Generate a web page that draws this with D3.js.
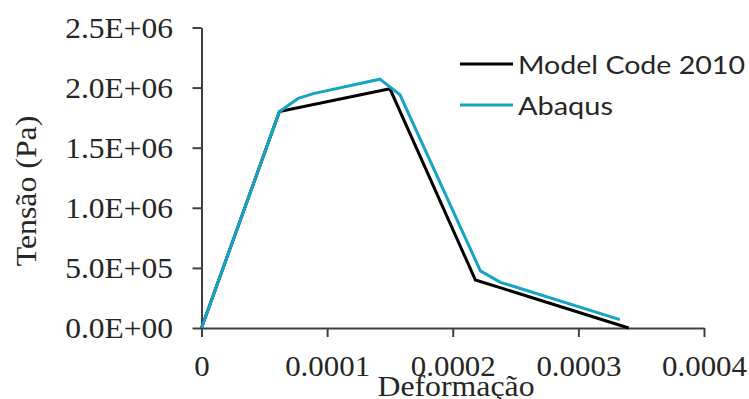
<!DOCTYPE html>
<html>
<head>
<meta charset="utf-8">
<script src="https://cdn.jsdelivr.net/npm/d3@7"></script>
<style>
  html, body { margin: 0; padding: 0; background: #fff; }
  svg { display: block; }
</style>
</head>
<body>
<svg id="chart" width="749" height="399"></svg>
<script>
// Stress–strain curves for concrete in tension
const seriesNames = ["Model Code 2010", "Abaqus"];
const seriesColors = ["#000000", "#17a3c6"];

// strain (–) and stress (Pa)
const modelCodeStrain = [0, 0.000062, 0.00015, 0.000218, 0.00034];
const modelCodeStress = [0, 1.80e6, 1.99e6, 0.40e6, 0];

const abaqusStrain = [0, 0.000062, 0.000077, 0.000089, 0.000142, 0.000158, 0.000222, 0.000238, 0.000333];
const abaqusStress = [0, 1.80e6, 1.91e6, 1.95e6, 2.07e6, 1.94e6, 0.475e6, 0.38e6, 0.07e6];

const xTicks = [0, 0.0001, 0.0002, 0.0003, 0.0004];
const xTickLabels = ["0", "0.0001", "0.0002", "0.0003", "0.0004"];
const yTicks = [0, 0.5e6, 1.0e6, 1.5e6, 2.0e6, 2.5e6];
const yTickLabels = ["0.0E+00", "5.0E+05", "1.0E+06", "1.5E+06", "2.0E+06", "2.5E+06"];

const xTitle = "Deformação";
const yTitle = "Tensão (Pa)";

const svg = d3.select("#chart");
const serif = "'Liberation Serif', 'Times New Roman', serif";
const sans = "Lato, 'Open Sans', Arial, sans-serif";
const textColor = "#262626";
const axisColor = "#404040";

const x = d3.scaleLinear().domain([0, 0.0004]).range([201.5, 704]);
const y = d3.scaleLinear().domain([0, 2.5e6]).range([328, 27.5]);

// Slight horizontal widening of glyphs
function widen(sel, f) {
  sel.each(function () {
    const w = this.getComputedTextLength();
    d3.select(this).attr("textLength", w * f).attr("lengthAdjust", "spacingAndGlyphs");
  });
}

// Y axis
const yAxis = d3.axisLeft(y)
  .tickValues(yTicks)
  .tickFormat((d, i) => yTickLabels[i])
  .tickSize(9)
  .tickSizeOuter(0)
  .tickPadding(19.5);
const gy = svg.append("g").attr("transform", `translate(${x(0)},0)`).call(yAxis);
gy.select(".domain").attr("stroke", axisColor).attr("stroke-width", 2);
gy.selectAll(".tick line").attr("stroke", axisColor).attr("stroke-width", 2);
gy.selectAll(".tick text")
  .attr("fill", textColor)
  .style("font-family", serif)
  .style("font-size", "30px");
widen(gy.selectAll(".tick text"), 1.05);

// X axis
const xAxis = d3.axisBottom(x)
  .tickValues(xTicks)
  .tickFormat((d, i) => xTickLabels[i])
  .tickSize(9)
  .tickSizeOuter(0);
const gx = svg.append("g").attr("transform", `translate(0,${y(0)})`).call(xAxis);
gx.select(".domain").attr("stroke", axisColor).attr("stroke-width", 2);
gx.selectAll(".tick line").attr("stroke", axisColor).attr("stroke-width", 2);
gx.selectAll(".tick text")
  .attr("fill", textColor)
  .attr("y", 48)
  .attr("dy", 0)
  .style("font-family", serif)
  .style("font-size", "30px");
widen(gx.selectAll(".tick text"), 1.03);

// Axis titles
const xt = svg.append("text")
  .attr("x", 456).attr("y", 396)
  .attr("text-anchor", "middle")
  .attr("fill", textColor)
  .style("font-family", serif).style("font-size", "30px")
  .text(xTitle);
widen(xt, 1.06);

const yt = svg.append("text")
  .attr("transform", "translate(36,191) rotate(-90)")
  .attr("text-anchor", "middle")
  .attr("fill", textColor)
  .style("font-family", serif).style("font-size", "30px")
  .text(yTitle);
widen(yt, 1.06);

// Curves
const series = [
  { strain: modelCodeStrain, stress: modelCodeStress },
  { strain: abaqusStrain, stress: abaqusStress }
];
const line = d3.line().x(d => x(d[0])).y(d => y(d[1]));
series.forEach((s, i) => {
  const pts = s.strain.map((e, k) => [e, s.stress[k]]);
  svg.append("path")
    .attr("d", line(pts))
    .attr("fill", "none")
    .attr("stroke", seriesColors[i])
    .attr("stroke-width", 3)
    .attr("stroke-linejoin", "miter");
});

// Legend
const legendWidths = [227, 95];
seriesNames.forEach((name, i) => {
  const ly = 64 + i * 41;
  svg.append("line")
    .attr("x1", 460).attr("x2", 513)
    .attr("y1", ly).attr("y2", ly)
    .attr("stroke", seriesColors[i]).attr("stroke-width", 3);
  svg.append("text")
    .attr("x", 518).attr("y", ly + 9.5)
    .attr("fill", textColor)
    .attr("textLength", legendWidths[i])
    .attr("lengthAdjust", "spacingAndGlyphs")
    .style("font-family", sans).style("font-size", "25px")
    .text(name);
});
</script>
</body>
</html>
